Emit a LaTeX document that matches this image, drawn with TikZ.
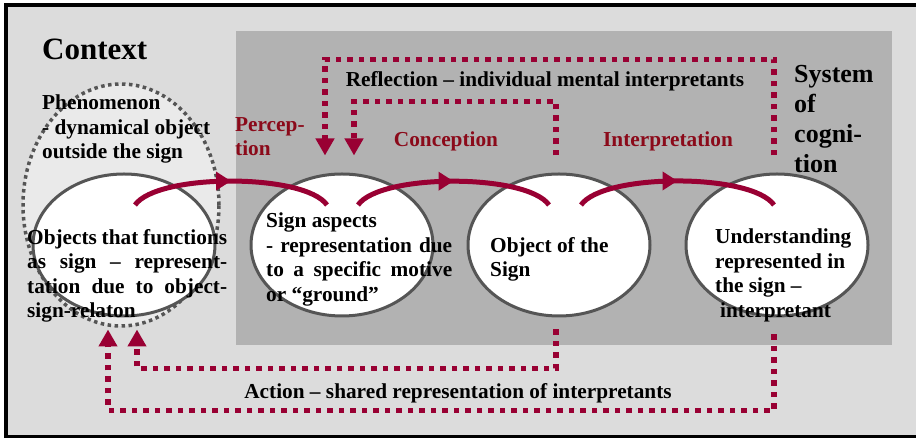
\documentclass[tikz,border=0pt]{standalone}
\usepackage{fontspec}
\setmainfont{Liberation Serif}
\usetikzlibrary{arrows.meta,shapes.geometric,decorations.markings,calc}

\definecolor{ctxgray}{HTML}{DCDCDC}
\definecolor{sysgray}{HTML}{B2B2B2}
\definecolor{phengray}{HTML}{EAEAEA}
\definecolor{rimgray}{HTML}{555555}
\definecolor{arcred}{HTML}{990033}
\definecolor{labred}{HTML}{8B0A1A}

\begin{document}
\begin{tikzpicture}[x=1pt, y=1pt, >=Stealth,
	   font=\bfseries\fontsize{21.3}{24.5}\selectfont,
	   sgn/.style={draw=rimgray, fill=white, line width=3pt, ellipse, minimum width=182pt, minimum height=142pt, inner sep=0pt},
	   txt/.style={inner sep=0pt, anchor=north west, align=left},
	   lbl/.style={text=labred, inner sep=0pt},
	   flow/.style={draw, arcred, line width=5pt, postaction={decorate},
	     decoration={markings, mark=at position 0.5 with {\arrow{Triangle[length=15pt,width=18pt]}}}},
	   loopback/.style={draw, arcred, line width=5.5pt, dash pattern=on 5.5pt off 6pt, -{Triangle[length=17pt,width=18pt]}}]
	  \useasboundingbox (0,0) rectangle (916,438);
	  % context and system of cognition
	  \draw[line width=4pt, fill=ctxgray] (6,1) rectangle (922,433);
	  \fill[sysgray] (236,93) rectangle (892,407);
	  \node[ellipse, draw=rimgray, fill=phengray, line width=3.5pt, dash pattern=on 3.5pt off 3.5pt,
	        minimum width=196pt, minimum height=242pt, inner sep=0pt] (phen) at (121,233) {};
	  % the four stages
	  \node[sgn] (objA) at (124,193) {};
	  \node[sgn] (signA) at (342,193) {};
	  \node[sgn] (objS) at (559,193) {};
	  \node[sgn] (undS) at (777,193) {};
	  \coordinate (f1s) at ($(objA)+(11,40)$);
	  \coordinate (f1e) at ($(signA)+(-15,40)$);
	  \coordinate (f2s) at ($(signA)+(16,40)$);
	  \coordinate (f2e) at ($(objS)+(-10,40)$);
	  \coordinate (f3s) at ($(objS)+(22,40)$);
	  \coordinate (f3e) at ($(undS)+(-3,40)$);
	  \draw[flow] (f1s) to[out=55,in=125,looseness=0.52] (f1e);
	  \draw[flow] (f2s) to[out=55,in=125,looseness=0.52] (f2e);
	  \draw[flow] (f3s) to[out=55,in=125,looseness=0.52] (f3e);
	  % reflection and action loops
	  \coordinate (upA) at ($(undS.north)+(-3,17)$);
	  \coordinate (upB) at ($(objS.north)+(-3,17)$);
	  \coordinate (inA) at ($(signA.north)+(-17,17)$);
	  \coordinate (inB) at ($(signA.north)+(12,17)$);
	  \coordinate (dnA) at ($(undS.south)+(-3,-17)$);
	  \coordinate (dnB) at ($(objS.south)+(-3,-12)$);
	  \coordinate (backA) at ($(objA.south)+(-16,-12)$);
	  \coordinate (backB) at ($(objA.south)+(13,-12)$);
	  \draw[loopback] (upA) -- ++(0,96) -| (inA);
	  \draw[loopback] (upB) -- ++(0,54) -| (inB);
	  \draw[loopback] (dnB) -- ++(0,-39) -| (backB);
	  \draw[loopback] (dnA) -- ++(0,-76) -| (backA);
	  % texts
	  \node[inner sep=0pt, anchor=base west, font=\bfseries\fontsize{31}{36}\selectfont] (ctx) at (42,378) {Context};
	  \node[txt, font=\bfseries\fontsize{26}{30}\selectfont] (sys) at (794,373) {System\\ of\\ cogni-\\ tion};
	  \node[txt] (phenT) at (42,343) {Phenomenon\\ - dynamical object\\ outside the sign};
	  \node[txt, lbl] (perc) at (235,321) {Percep-\\ tion};
	  \node[lbl, anchor=base] (conc) at (446,291) {Conception};
	  \node[lbl, anchor=base] (intp) at (668,291) {Interpretation};
	  \node[inner sep=0pt, anchor=base] (refl) at (545,351) {Reflection -- individual mental interpretants};
	  \node[inner sep=0pt, anchor=base] (act) at (458,39) {Action -- shared representation of interpretants};
	  \node[txt] (objT) at (27,209) {\makebox[200pt][s]{Objects that functions}\\ \makebox[200pt][s]{as sign -- represent-}\\ \makebox[200pt][s]{tation due to object-}\\ sign-relaton};
	  \node[txt] (signT) at (266,225) {Sign aspects\\ \makebox[186pt][s]{- representation due}\\ \makebox[186pt][s]{to a specific motive}\\ or “ground”};
	  \node[txt] (objST) at (490,201) {Object of the\\ Sign};
	  \node[txt] (undT) at (715,209) {Understanding\\ represented in\\ the sign --\\ \hspace*{5pt}interpretant};
	\end{tikzpicture}
\end{document}
